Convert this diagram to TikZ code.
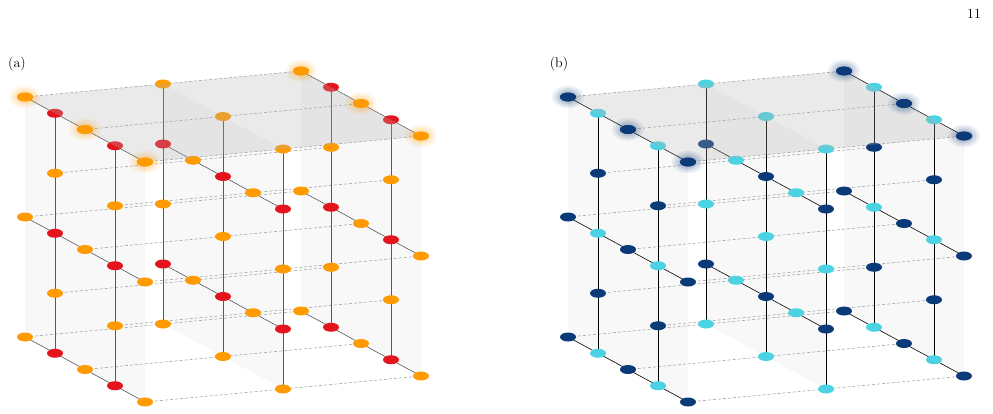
\documentclass[tikz,border=0pt]{standalone}
\usetikzlibrary{calc,shapes.geometric}
\definecolor{orng}{HTML}{FF9A00}
\definecolor{rd}{HTML}{E3141C}
\definecolor{nvy}{HTML}{0A3A78}
\definecolor{cyn}{HTML}{4CD3E3}
\tikzset{dot/.style={ellipse,inner sep=0pt,minimum width=16pt,minimum height=9pt},
 dline/.style={gray!70,dash pattern=on 3pt off 2pt,line width=0.6pt},
 plane/.style={fill=gray!8,fill opacity=0.7},
 topface/.style={fill=gray!60,fill opacity=0.28},
 lbl/.style={font=\fontsize{14}{16}\selectfont,inner sep=0pt}}
\newcommand\drawpanel[6]{% ox, prefix, colEven, colOdd, line color, swap
 \foreach \j in {0,1,2}{\foreach \i in {0,...,4}{\foreach \k in {0,...,4}{
   \coordinate (#2-\i-\j-\k) at ({#1+30*\i+138*\j},{97+16.25*\i-13*\j+60*\k});}}}
 \foreach \j in {2,1,0}{\fill[plane] (#2-0-\j-0)--(#2-4-\j-0)--(#2-4-\j-4)--(#2-0-\j-4)--cycle;}
 \foreach \i in {0,...,4}{\foreach \k in {0,...,4}{
   \pgfmathtruncatemacro\pq{mod(\i+\k,2)}
   \ifnum\pq=0 \draw[dline] (#2-\i-0-\k)--(#2-\i-2-\k);\fi}}
 \foreach \j in {0,1,2}{
   \pgfmathtruncatemacro\jp{mod(\j,2)}
   \foreach \k in {0,...,4}{\pgfmathtruncatemacro\kp{mod(\k+\jp,2)}
     \ifnum\kp=0 \draw[#5,line width=0.6pt] (#2-0-\j-\k)--(#2-4-\j-\k);\fi}
   \foreach \i in {0,...,4}{\pgfmathtruncatemacro\ip{mod(\i+\jp,2)}
     \ifnum\ip=1 \draw[#5,line width=0.6pt] (#2-\i-\j-0)--(#2-\i-\j-4);\fi}}
 \foreach \j in {0,1,2}{\pgfmathtruncatemacro\jp{mod(\j,2)}
  \foreach \i in {0,...,4}{\foreach \k in {0,...,4}{
   \pgfmathtruncatemacro\ip{mod(\i+\jp,2)}
   \pgfmathtruncatemacro\kp{mod(\k+\jp,2)}
   \pgfmathtruncatemacro\shw{(\ip==1)||(\kp==0)}
   \pgfmathtruncatemacro\cc{mod(\i+\k+#6*\jp,2)}
   \ifnum\shw=1
     \ifnum\cc=0 \node[dot,fill=#3] (#2n-\i-\j-\k) at (#2-\i-\j-\k) {};
     \else \node[dot,fill=#4] (#2n-\i-\j-\k) at (#2-\i-\j-\k) {};\fi
   \fi}}}
 \fill[topface] (#2-0-0-0)--(#2-4-0-0)--(#2-4-2-0)--(#2-0-2-0)--cycle;
 \foreach \j in {0,2}{\foreach \i in {0,2,4}{
   \foreach \r/\o in {16/0.08,13/0.1,10/0.12}{\fill[#3,opacity=\o] (#2-\i-\j-0) ellipse ({\r pt} and {0.7*\r pt});}
   \node[dot,fill=#3] at (#2-\i-\j-0) {};}}
}
\begin{document}
\begin{tikzpicture}[x=1pt,y=-1pt]
\useasboundingbox (0,0) rectangle (993,413);
\node[lbl] (p11) at (974,14) {11};
\node[lbl] (la) at (17,64) {(a)};
\node[lbl] (lb) at (559,64) {(b)};
\drawpanel{25}{A}{orng}{rd}{black!65}{0}
\drawpanel{568}{B}{nvy}{cyn}{black}{1}
\end{tikzpicture}
\end{document}
